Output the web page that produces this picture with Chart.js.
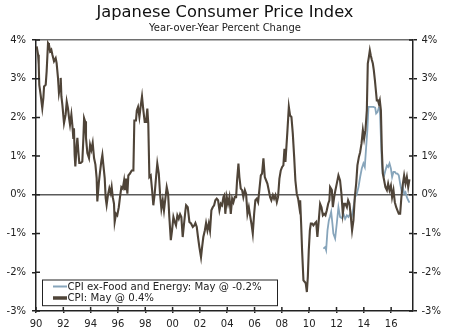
<!DOCTYPE html>
<html>
<head>
<meta charset="utf-8">
<script src="https://cdn.jsdelivr.net/npm/chart.js@4"></script>
<style>
  html, body { margin: 0; padding: 0; background: #fff; }
  #wrap { width: 450px; height: 334px; }
</style>
</head>
<body>
<div id="wrap"><canvas id="cpiChart"></canvas></div>
<script>
// values (decimal year, percent)
const cpiDates = [
  1990.00, 1990.05, 1990.15, 1990.20, 1990.24, 1990.34, 1990.46, 1990.54, 1990.59, 1990.71, 1990.78, 1990.88, 1990.95,
  1991.03, 1991.12, 1991.20, 1991.32, 1991.44, 1991.51, 1991.61, 1991.68, 1991.76, 1991.81, 1991.86, 1991.93,
  1992.05, 1992.17, 1992.25, 1992.34, 1992.42, 1992.49, 1992.59, 1992.66, 1992.73, 1992.78, 1992.83, 1992.88, 1992.98,
  1993.03, 1993.10, 1993.17, 1993.27, 1993.39, 1993.47, 1993.52, 1993.59, 1993.66, 1993.76, 1993.88, 1993.96,
  1994.05, 1994.15, 1994.25, 1994.35, 1994.44, 1994.49, 1994.61, 1994.69, 1994.78, 1994.86, 1994.93,
  1995.03, 1995.10, 1995.17, 1995.27, 1995.37, 1995.47, 1995.54, 1995.62, 1995.71, 1995.76, 1995.86, 1995.95,
  1996.06, 1996.15, 1996.25, 1996.35, 1996.45, 1996.52, 1996.59, 1996.69, 1996.76, 1996.88,
  1997.01, 1997.13, 1997.20, 1997.32, 1997.38, 1997.47, 1997.57, 1997.67, 1997.76, 1997.86, 1997.96,
  1998.06, 1998.15, 1998.22, 1998.30, 1998.40, 1998.50, 1998.59, 1998.69, 1998.79, 1998.88, 1998.99,
  1999.08, 1999.18, 1999.28, 1999.37, 1999.47, 1999.57, 1999.67, 1999.76, 1999.87, 1999.96,
  2000.06, 2000.16, 2000.25, 2000.35, 2000.45, 2000.55, 2000.64, 2000.74, 2000.84, 2000.94, 2000.99,
  2001.11, 2001.23, 2001.35, 2001.48, 2001.59, 2001.67, 2001.77, 2001.86, 2001.96,
  2002.08, 2002.16, 2002.25, 2002.36, 2002.45, 2002.55, 2002.65, 2002.74, 2002.84, 2002.94,
  2003.04, 2003.13, 2003.23, 2003.33, 2003.43, 2003.53, 2003.62, 2003.72, 2003.79, 2003.86, 2003.97,
  2004.06, 2004.16, 2004.26, 2004.36, 2004.45, 2004.55, 2004.65, 2004.72, 2004.82, 2004.89, 2004.99,
  2005.09, 2005.18, 2005.29, 2005.38, 2005.48, 2005.58, 2005.67, 2005.77, 2005.87, 2005.97,
  2006.06, 2006.16, 2006.26, 2006.35, 2006.46, 2006.55, 2006.65, 2006.75, 2006.85, 2006.94,
  2007.04, 2007.14, 2007.23, 2007.34, 2007.43, 2007.53, 2007.63, 2007.72, 2007.82, 2007.92,
  2008.02, 2008.11, 2008.19, 2008.26, 2008.33, 2008.41, 2008.51, 2008.60, 2008.70, 2008.80, 2008.90, 2008.99,
  2009.09, 2009.19, 2009.28, 2009.34, 2009.41, 2009.48, 2009.58, 2009.68, 2009.75, 2009.83, 2009.90, 2009.97,
  2010.05, 2010.12, 2010.21, 2010.31, 2010.41, 2010.51, 2010.60, 2010.71, 2010.80, 2010.90,
  2011.00, 2011.09, 2011.19, 2011.29, 2011.39, 2011.48, 2011.53, 2011.66, 2011.73, 2011.83, 2011.92,
  2012.02, 2012.14, 2012.26, 2012.36, 2012.46, 2012.56, 2012.65, 2012.76, 2012.85, 2012.95,
  2013.05, 2013.14, 2013.24, 2013.34, 2013.44, 2013.53, 2013.64, 2013.73, 2013.83, 2013.93,
  2014.02, 2014.12, 2014.22, 2014.29, 2014.37, 2014.44, 2014.51, 2014.59, 2014.66, 2014.73, 2014.81, 2014.88, 2014.95,
  2015.03, 2015.10, 2015.17, 2015.25, 2015.32, 2015.39, 2015.49, 2015.58, 2015.69, 2015.78, 2015.88, 2015.98,
  2016.07, 2016.17, 2016.27, 2016.37, 2016.46, 2016.56, 2016.66, 2016.75, 2016.86, 2016.95,
  2017.05, 2017.15, 2017.25, 2017.34
];
const cpiValues = [
  3.79, 3.83, 3.62, 3.36, 2.84, 2.58, 2.24, 2.50, 2.80, 2.84, 3.19, 3.92, 3.88,
  3.71, 3.75, 3.62, 3.45, 3.53, 3.40, 3.02, 2.63, 2.80, 3.02, 2.54, 2.33,
  1.85, 2.07, 2.41, 2.24, 1.98, 1.81, 2.07, 1.81, 1.47, 1.72, 1.03, 0.73, 1.29,
  1.47, 1.12, 0.82, 0.82, 0.86, 1.47, 1.98, 1.90, 1.47, 1.08, 0.95, 1.29,
  1.16, 1.34, 0.95, 0.78, 0.43, -0.17, 0.35, 0.60, 0.86, 1.03, 0.78,
  0.43, -0.08, -0.26, 0.00, 0.17, 0.04, 0.20, -0.06, -0.23, -0.70, -0.49, -0.53,
  -0.32, -0.06, 0.20, 0.16, 0.37, 0.12, 0.42, 0.03, 0.50, 0.55,
  0.63, 0.63, 1.92, 1.92, 2.18, 2.27, 2.01, 2.31, 2.54, 2.18, 1.88,
  1.88, 2.23, 1.84, 0.46, 0.50, 0.12, -0.27, 0.03, 0.46, 0.81, 0.55,
  0.03, -0.36, -0.14, -0.40, -0.10, 0.20, 0.03, -0.57, -1.17, -0.92,
  -0.57, -0.70, -0.79, -0.53, -0.62, -0.50, -0.57, -1.09, -0.74, -0.40, -0.27,
  -0.32, -0.70, -0.74, -0.83, -0.79, -0.73, -0.83, -1.09, -1.35,
  -1.61, -1.35, -1.09, -0.92, -0.73, -0.92, -0.74, -0.92, -0.40, -0.32,
  -0.27, -0.14, -0.10, -0.14, -0.40, -0.23, -0.27, -0.06, -0.01, -0.49, -0.06,
  -0.23, -0.06, -0.49, -0.10, -0.19, -0.06, -0.06, 0.37, 0.81, 0.46, 0.16,
  0.12, -0.06, 0.12, 0.03, -0.49, -0.32, -0.53, -0.74, -1.00, -0.49,
  -0.14, -0.10, -0.19, 0.12, 0.50, 0.55, 0.94, 0.46, 0.37, 0.29,
  0.12, -0.06, -0.14, -0.01, -0.10, -0.01, -0.19, -0.06, 0.42, 0.63,
  0.72, 0.76, 1.19, 0.85, 1.23, 1.67, 2.27, 2.05, 2.01, 1.58, 0.98, 0.37,
  0.03, -0.10, -0.32, -0.14, -0.74, -1.43, -2.21, -2.25, -2.29, -2.51, -2.12, -1.43,
  -0.92, -0.74, -0.74, -0.79, -0.74, -0.70, -1.09, -0.62, -0.23, -0.32,
  -0.53, -0.49, -0.53, -0.40, -0.23, -0.14, 0.20, 0.12, -0.32, -0.06, 0.12,
  0.29, 0.50, 0.37, 0.03, -0.49, -0.23, -0.23, -0.32, -0.14, -0.23,
  -0.57, -0.92, -0.66, -0.06, 0.29, 0.76, 0.98, 1.10, 1.32, 1.67,
  1.45, 1.67, 2.18, 3.39, 3.56, 3.73, 3.60, 3.48, 3.39, 3.22, 2.96, 2.70, 2.44,
  2.44, 2.35, 2.44, 2.18, 1.15, 0.55, 0.37, 0.20, 0.12, 0.29, 0.12, 0.24,
  -0.06, 0.12, -0.19, -0.32, -0.40, -0.49, -0.49, -0.06, 0.29, 0.50,
  0.29, 0.46, 0.20, 0.40
];
const coreDates = [
  2011.04, 2011.17, 2011.24, 2011.34, 2011.44, 2011.53, 2011.61, 2011.70, 2011.77, 2011.90,
  2012.02, 2012.14, 2012.26, 2012.39, 2012.51, 2012.63, 2012.76, 2012.87,
  2013.00, 2013.12, 2013.24, 2013.36, 2013.49, 2013.61, 2013.73, 2013.85, 2013.97,
  2014.07, 2014.17, 2014.26, 2014.34, 2014.46, 2014.59, 2014.70, 2014.83, 2014.90,
  2015.00, 2015.10, 2015.17, 2015.25, 2015.32, 2015.39, 2015.49, 2015.58, 2015.69, 2015.78, 2015.88, 2015.98,
  2016.07, 2016.17, 2016.27, 2016.37, 2016.46, 2016.56, 2016.66, 2016.75, 2016.86, 2016.95,
  2017.05, 2017.15, 2017.25, 2017.34
];
const coreValues = [
  -1.39, -1.35, -1.43, -0.92, -0.66, -0.55, -0.44, -0.74, -1.00, -1.13,
  -0.74, -0.32, -0.57, -0.60, -0.49, -0.62, -0.53, -0.57,
  -0.49, -0.55, -0.32, -0.06, 0.03, 0.20, 0.46, 0.68, 0.81,
  0.72, 1.23, 1.67, 2.27, 2.27, 2.27, 2.27, 2.25, 2.10,
  2.14, 2.25, 2.25, 1.49, 0.81, 0.55, 0.50, 0.63, 0.76, 0.72, 0.81, 0.68,
  0.46, 0.59, 0.59, 0.55, 0.55, 0.50, 0.29, 0.12, 0.20, 0.03,
  0.07, -0.06, -0.14, -0.20
];
const seriesLabels = ['CPI ex-Food and Energy: May @ -0.2%', 'CPI: May @ 0.4%'];
const xTickYears = [1990, 1992, 1994, 1996, 1998, 2000, 2002, 2004, 2006, 2008, 2010, 2012, 2014, 2016];
const xTickLabels = ['90', '92', '94', '96', '98', '00', '02', '04', '06', '08', '10', '12', '14', '16'];

const FONT = 'DejaVu Sans';
const INK = '#222';
const CPI_COLOR = '#4f4438';
const CORE_COLOR = '#87a5bb';

// tick marks that cross the axis lines: the library draws the outer half, this the inner half
const innerTicks = {
  id: 'innerTicks',
  afterDraw(chart) {
    const { ctx, chartArea: a, scales } = chart;
    ctx.save();
    ctx.strokeStyle = INK;
    ctx.lineWidth = 1.5;
    ctx.beginPath();
    scales.x.ticks.forEach(t => {
      const px = scales.x.getPixelForValue(t.value);
      ctx.moveTo(px, a.bottom);
      ctx.lineTo(px, a.bottom - 4);
    });
    scales.y.ticks.forEach(t => {
      const py = scales.y.getPixelForValue(t.value);
      ctx.moveTo(a.left, py);
      ctx.lineTo(a.left + 4, py);
    });
    scales.y2.ticks.forEach(t => {
      const py = scales.y2.getPixelForValue(t.value);
      ctx.moveTo(a.right, py);
      ctx.lineTo(a.right - 4, py);
    });
    ctx.stroke();
    ctx.restore();
  }
};

// boxed legend in the lower left corner of the plot
const boxLegend = {
  id: 'boxLegend',
  afterDraw(chart) {
    const { ctx, chartArea: a } = chart;
    const x0 = a.left + 6, y0 = a.bottom - 31.5, w = 235, h = 25.7;
    ctx.save();
    ctx.fillStyle = '#fff';
    ctx.fillRect(x0, y0, w, h);
    ctx.strokeStyle = INK;
    ctx.lineWidth = 1;
    ctx.strokeRect(x0 + 0.5, y0 + 0.5, w, h);
    const items = [
      { text: seriesLabels[0], color: CORE_COLOR, width: 2, y: y0 + 7 },
      { text: seriesLabels[1], color: CPI_COLOR, width: 3.5, y: y0 + 18.5 }
    ];
    ctx.font = '10.2px "' + FONT + '"';
    ctx.textBaseline = 'middle';
    items.forEach(it => {
      ctx.strokeStyle = it.color;
      ctx.lineWidth = it.width;
      ctx.beginPath();
      ctx.moveTo(x0 + 11, it.y);
      ctx.lineTo(x0 + 25, it.y);
      ctx.stroke();
      ctx.fillStyle = INK;
      ctx.fillText(it.text, x0 + 25.5, it.y + 0.5);
    });
    ctx.restore();
  }
};

new Chart(document.getElementById('cpiChart'), {
  type: 'line',
  data: {
    datasets: [
      {
        label: seriesLabels[1],
        data: cpiDates.map((d, i) => ({ x: d, y: cpiValues[i] })),
        borderColor: CPI_COLOR,
        borderWidth: 2.1,
        pointRadius: 0,
        tension: 0,
        fill: false
      },
      {
        label: seriesLabels[0],
        data: coreDates.map((d, i) => ({ x: d, y: coreValues[i] })),
        borderColor: CORE_COLOR,
        borderWidth: 1.8,
        pointRadius: 0,
        tension: 0,
        fill: false
      }
    ]
  },
  options: {
    responsive: true,
    maintainAspectRatio: false,
    animation: false,
    layout: { padding: 0 },
    plugins: {
      legend: { display: false },
      tooltip: { enabled: false },
      title: {
        display: true,
        text: 'Japanese Consumer Price Index',
        color: '#111',
        font: { family: FONT, size: 16.3, weight: 'normal', lineHeight: 1.1 },
        padding: { top: 4, bottom: 0 }
      },
      subtitle: {
        display: true,
        text: 'Year-over-Year Percent Change',
        color: INK,
        font: { family: FONT, size: 10, weight: 'normal', lineHeight: 1.2 },
        padding: { top: 0, bottom: 6 }
      }
    },
    scales: {
      x: {
        type: 'linear',
        min: 1990,
        max: 2017.6,
        afterBuildTicks: s => { s.ticks = xTickYears.map(v => ({ value: v })); },
        afterFit: s => { s.height = 23; },
        ticks: {
          autoSkip: false,
          maxRotation: 0,
          padding: 5,
          color: INK,
          font: { family: FONT, size: 10 },
          callback: v => xTickLabels[xTickYears.indexOf(v)]
        },
        grid: { drawOnChartArea: false, tickLength: 2, tickColor: INK, lineWidth: 1.5 },
        border: { color: INK, width: 1.5 }
      },
      y: {
        position: 'left',
        min: -3,
        max: 4,
        afterFit: s => { s.width = 36; },
        ticks: {
          stepSize: 1,
          padding: 6,
          color: INK,
          font: { family: FONT, size: 10 },
          callback: v => v + '%'
        },
        grid: {
          color: c => c.tick.value === 0 ? '#5a5a5a' : (c.tick.value === 4 ? '#6e6e6e' : 'rgba(0,0,0,0)'),
          lineWidth: 1.5,
          tickLength: 4,
          tickColor: INK
        },
        border: { color: INK, width: 1.5 }
      },
      y2: {
        position: 'right',
        min: -3,
        max: 4,
        afterFit: s => { s.width = 37; },
        ticks: {
          stepSize: 1,
          padding: 4.5,
          color: INK,
          font: { family: FONT, size: 10 },
          callback: v => v + '%'
        },
        grid: { drawOnChartArea: false, tickLength: 4, tickColor: INK, lineWidth: 1.5 },
        border: { color: INK, width: 1.5 }
      }
    }
  },
  plugins: [innerTicks, boxLegend]
});
</script>
</body>
</html>
